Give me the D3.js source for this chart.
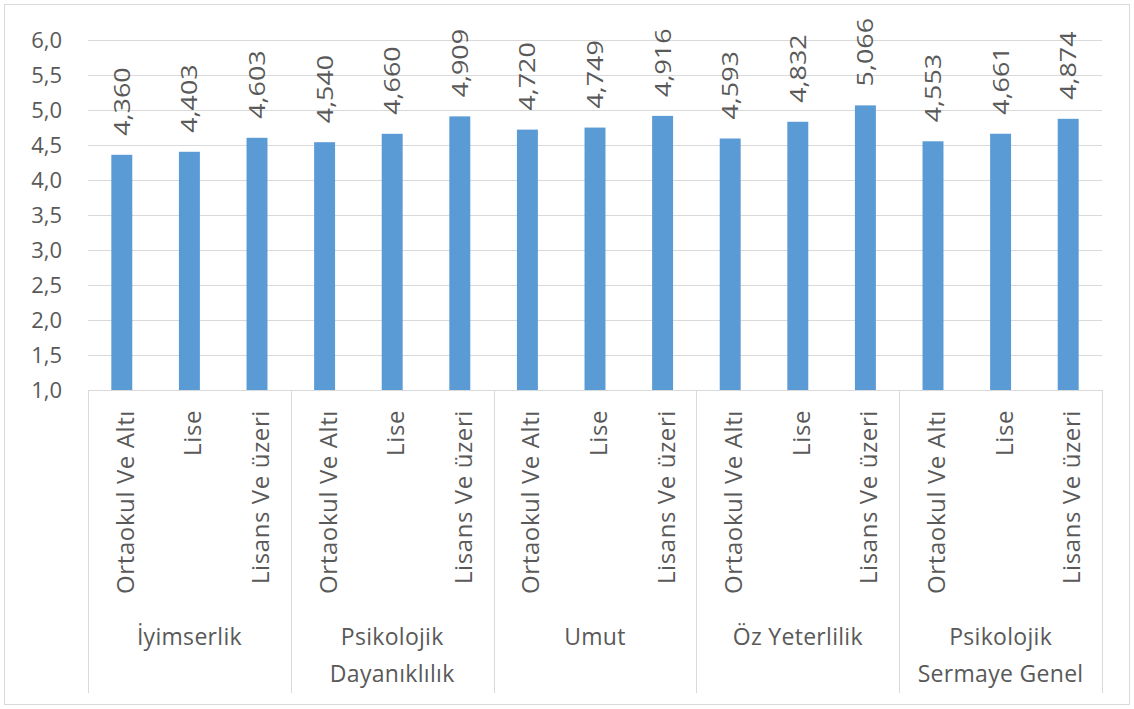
<!DOCTYPE html>
<html>
<head>
<meta charset="utf-8">
<script src="https://cdn.jsdelivr.net/npm/d3@7"></script>
<style>
  body { margin: 0; background: #fff; }
  svg text { font-family: "Open Sans", "Noto Sans", sans-serif; fill: #595959; }
</style>
</head>
<body>
<div id="chart"></div>
<script>
// data
const groups = ["İyimserlik", "Psikolojik Dayanıklılık", "Umut", "Öz Yeterlilik", "Psikolojik Sermaye Genel"];
const groupLines = [["İyimserlik"], ["Psikolojik", "Dayanıklılık"], ["Umut"], ["Öz Yeterlilik"], ["Psikolojik", "Sermaye Genel"]];
const levels = ["Ortaokul Ve Altı", "Lise", "Lisans Ve üzeri"];
const values = [
  [4.360, 4.403, 4.603],
  [4.540, 4.660, 4.909],
  [4.720, 4.749, 4.916],
  [4.593, 4.832, 5.066],
  [4.553, 4.661, 4.874]
];
const yTicks = [1.0, 1.5, 2.0, 2.5, 3.0, 3.5, 4.0, 4.5, 5.0, 5.5, 6.0];

window.addEventListener("load", () => {
  const W = 1134, H = 709;
  const margin = {top: 40, right: 32, bottom: 319, left: 88};
  const width = W - margin.left - margin.right;
  const height = H - margin.top - margin.bottom;

  const svg = d3.select("#chart").append("svg")
                .attr("width", W)
                .attr("height", H);

  // outer border
  svg.append("rect")
     .attr("x", 4.5).attr("y", 4.5)
     .attr("width", W - 9).attr("height", H - 9)
     .attr("fill", "none")
     .attr("stroke", "#d9d9d9");

  const chart = svg.append("g")
                   .attr("transform", `translate(${margin.left}, ${margin.top})`);

  // flatten data
  const rows = [];
  values.forEach((vals, gi) => {
    vals.forEach((v, li) => {
      rows.push({key: `${gi}-${li}`, group: gi, level: levels[li], value: v});
    });
  });

  // scales
  const x = d3.scaleBand()
              .domain(rows.map(d => d.key))
              .range([0, width])
              .paddingInner(0.69)
              .paddingOuter(0.345);

  const y = d3.scaleLinear()
              .domain([1, 6])
              .range([height, 0]);

  // gridlines
  chart.append("g")
       .attr("class", "grid")
       .selectAll("line")
       .data(yTicks)
       .join("line")
         .attr("x1", 0)
         .attr("x2", width)
         .attr("y1", d => Math.round(y(d)) + 0.5)
         .attr("y2", d => Math.round(y(d)) + 0.5)
         .attr("stroke", "#d9d9d9")
         .attr("stroke-width", 1);

  // y axis labels
  const yAxis = d3.axisLeft(y)
                  .tickValues(yTicks)
                  .tickSize(0)
                  .tickPadding(26)
                  .tickFormat(d => d3.format(".1f")(d).replace(".", ","));

  chart.append("g")
       .attr("class", "y-axis")
       .call(yAxis)
       .call(g => g.select(".domain").remove())
       .selectAll("text")
         .style("font-size", "22px")
         .style("font-family", "\"Open Sans\", sans-serif")
         .style("fill", "#595959");

  // bars
  chart.append("g")
       .selectAll("rect")
       .data(rows)
       .join("rect")
         .attr("x", d => x(d.key))
         .attr("y", d => y(d.value))
         .attr("width", x.bandwidth())
         .attr("height", d => y(1) - y(d.value))
         .attr("fill", "#5b9bd5");

  // value labels (stretched along the text like the source picture)
  chart.append("g")
       .selectAll("text")
       .data(rows)
       .join("text")
         .attr("transform", d => `translate(${x(d.key) + x.bandwidth() / 2 + 8}, ${y(d.value) - 19}) rotate(-90) scale(1.28, 1)`)
         .attr("text-anchor", "start")
         .style("font-size", "21px")
         .text(d => d3.format(".3f")(d.value).replace(".", ","));

  // category axis
  const step = x.step();
  const catAxis = chart.append("g")
                       .attr("transform", `translate(0, ${height})`);

  catAxis.append("line")
         .attr("x1", 0).attr("x2", width)
         .attr("y1", 0.5).attr("y2", 0.5)
         .attr("stroke", "#d9d9d9");

  // group separators
  const sepX = d3.range(groups.length + 1).map(i => Math.round(i * step * 3) + 0.5);
  catAxis.selectAll(".sep")
         .data(sepX)
         .join("line")
           .attr("class", "sep")
           .attr("x1", d => d).attr("x2", d => d)
           .attr("y1", 0).attr("y2", 303)
           .attr("stroke", "#d9d9d9");

  // level labels
  catAxis.selectAll(".level")
         .data(rows)
         .join("text")
           .attr("class", "level")
           .attr("transform", d => `translate(${x(d.key) + x.bandwidth() / 2 + 12}, 20) rotate(-90)`)
           .attr("text-anchor", "end")
           .style("font-size", "24px")
           .style("letter-spacing", "0.6px")
           .text(d => d.level);

  // group labels
  const groupG = catAxis.selectAll(".group")
                        .data(groupLines)
                        .join("text")
                          .attr("class", "group")
                          .attr("text-anchor", "middle")
                          .style("font-size", "23px")
                          .style("letter-spacing", "0.3px");

  groupG.each(function(lines, i) {
    const cx = (i + 0.5) * step * 3;
    const t = d3.select(this);
    lines.forEach((line, j) => {
      t.append("tspan")
       .attr("x", cx)
       .attr("y", 255 + j * 36.5)
       .text(line);
    });
  });
});
</script>
</body>
</html>
